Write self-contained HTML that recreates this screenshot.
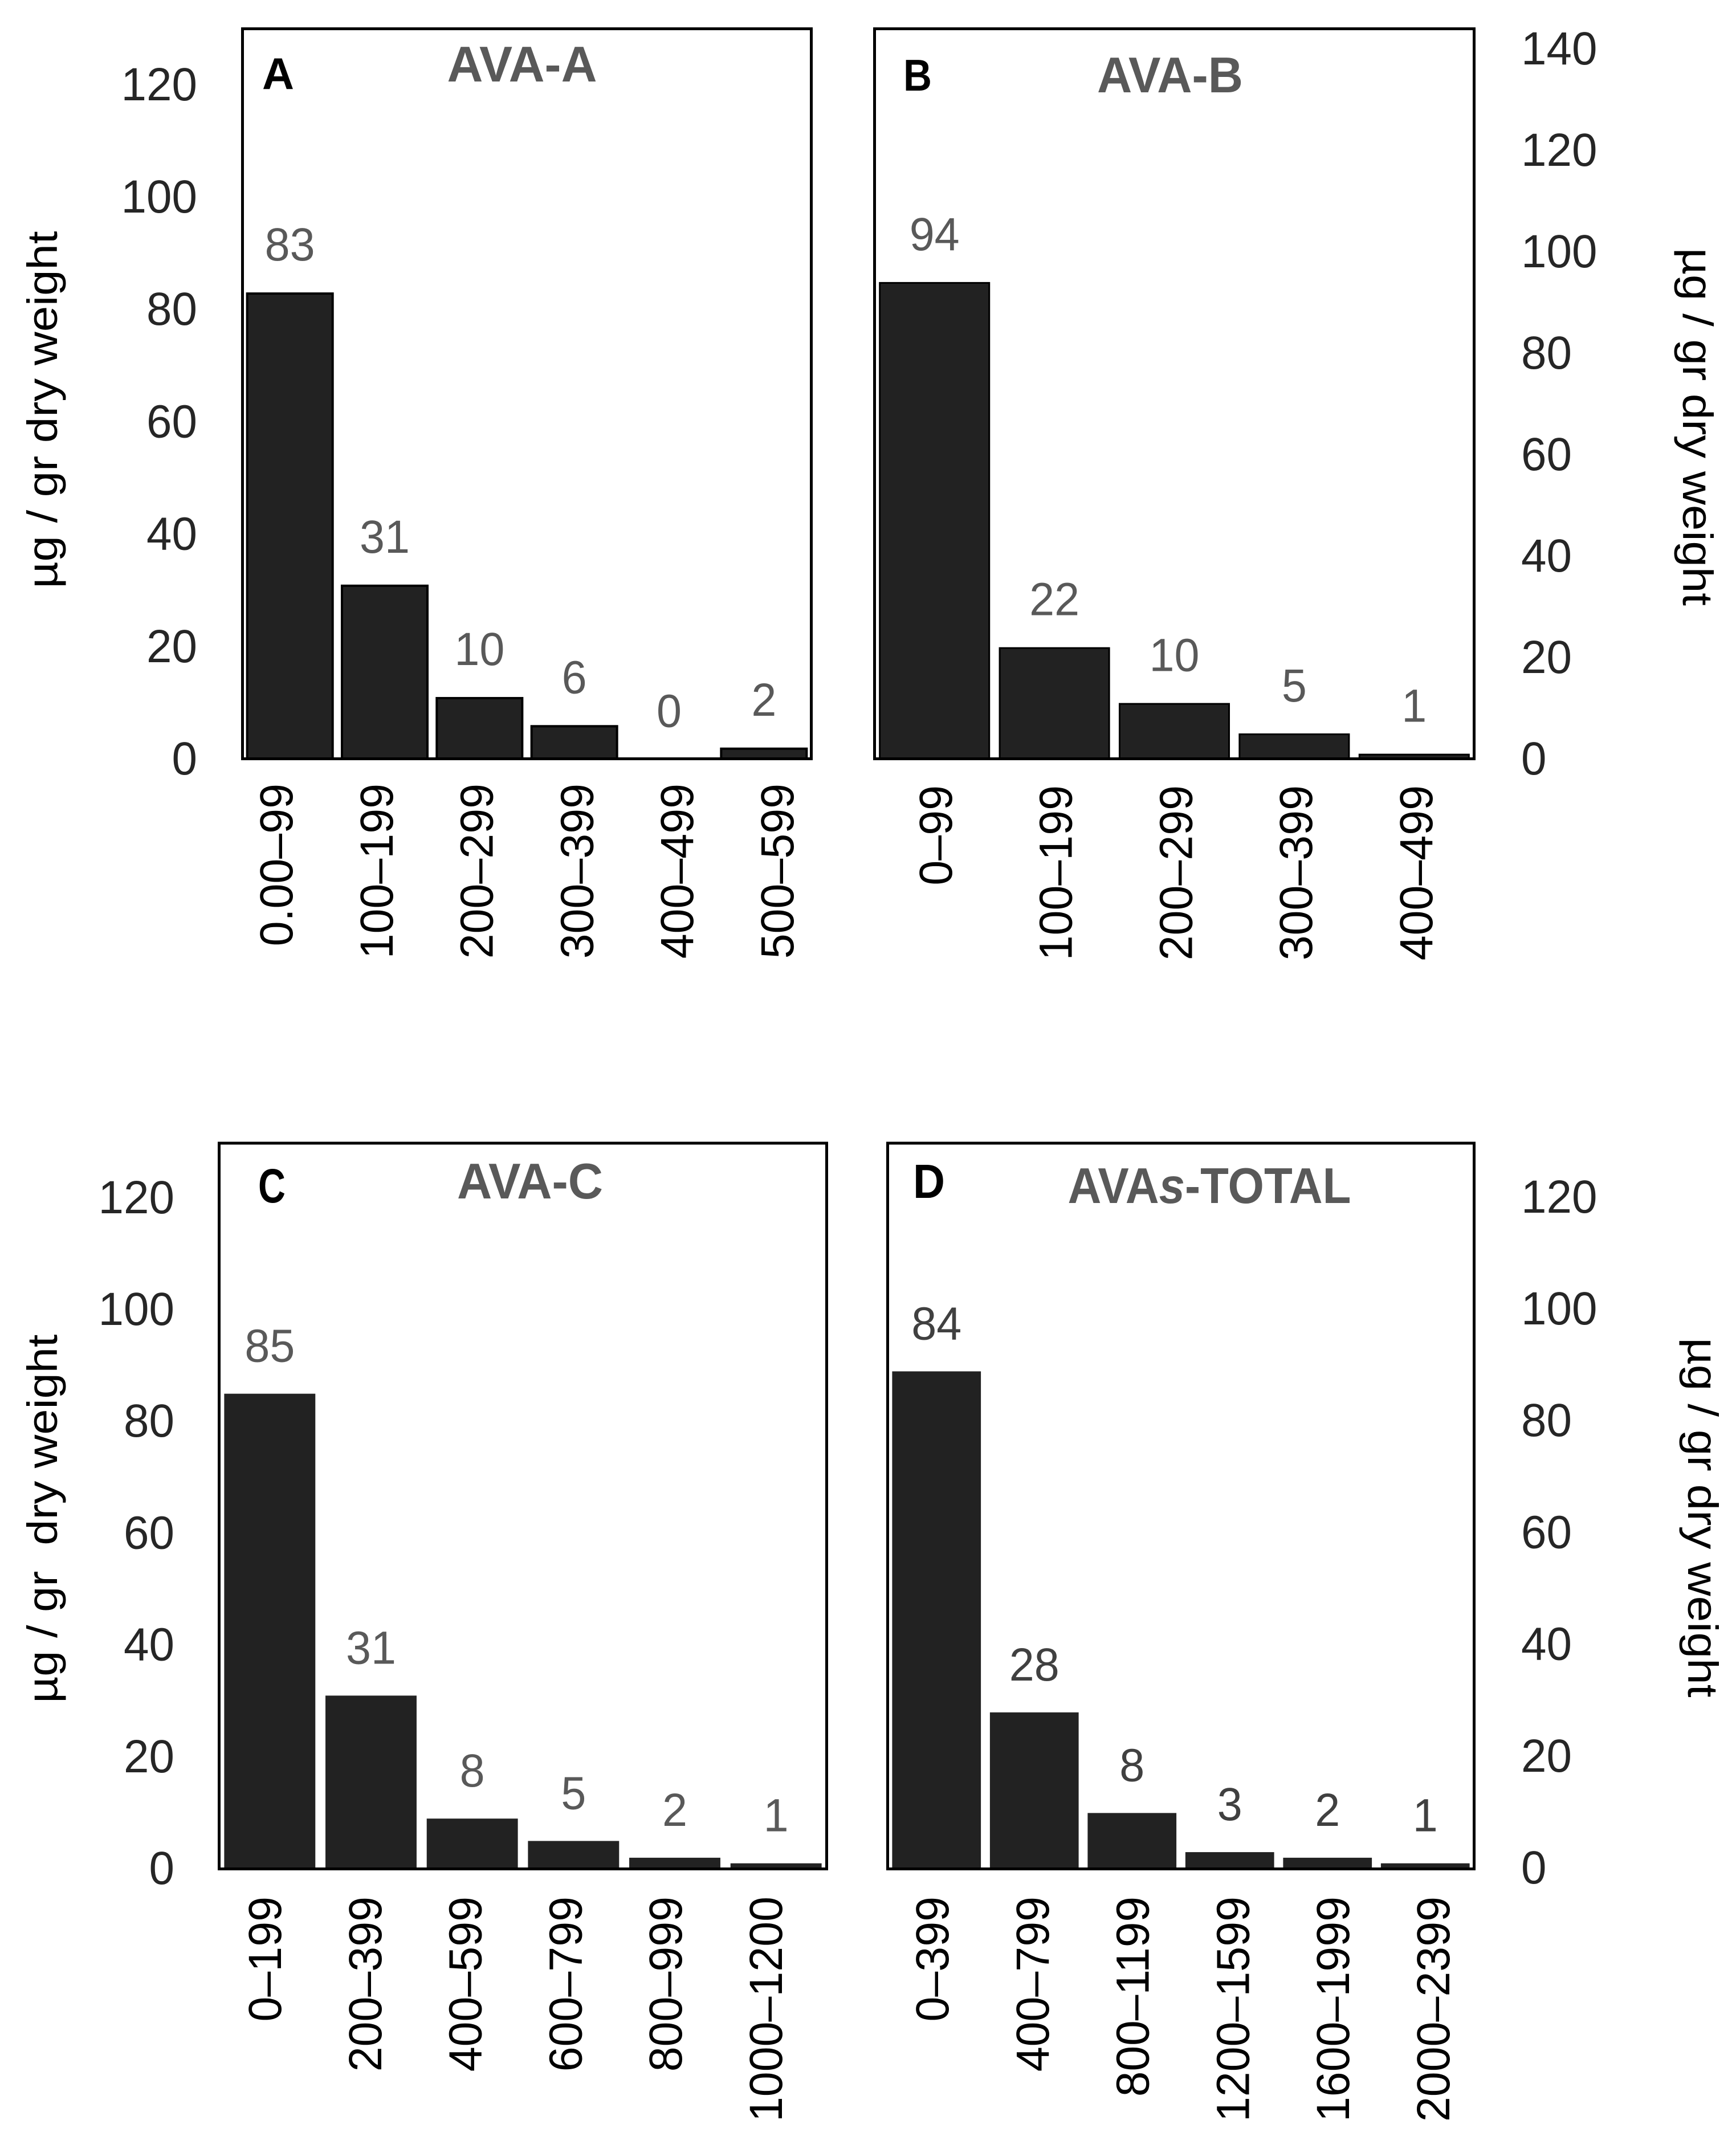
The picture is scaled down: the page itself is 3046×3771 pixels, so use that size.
<!DOCTYPE html>
<html lang="en">
<head>
<meta charset="utf-8">
<title>AVA concentration histograms</title>
<style>
html,body{margin:0;padding:0;background:#fff;width:3046px;height:3771px;overflow:hidden}
svg{display:block}
text{font-family:"Liberation Sans",sans-serif}
</style>
</head>
<body>
<svg id="chart" xmlns="http://www.w3.org/2000/svg" width="3046" height="3771" viewBox="0 0 3046 3771"></svg>
<script>
const ticksA = [0, 20, 40, 60, 80, 100, 120];
const ticksB = [0, 20, 40, 60, 80, 100, 120, 140];
const ticksC = [0, 20, 40, 60, 80, 100, 120];
const ticksD = [0, 20, 40, 60, 80, 100, 120];

const categoriesA = ['0.00–99', '100–199', '200–299', '300–399', '400–499', '500–599'];
const valuesA = [83, 31, 11, 6, 0, 2];
const printedA = ['83', '31', '10', '6', '0', '2'];

const categoriesB = ['0–99', '100–199', '200–299', '300–399', '400–499'];
const valuesB = [94, 22, 11, 5, 1];
const printedB = ['94', '22', '10', '5', '1'];

const categoriesC = ['0–199', '200–399', '400–599', '600–799', '800–999', '1000–1200'];
const valuesC = [85, 31, 9, 5, 2, 1];
const printedC = ['85', '31', '8', '5', '2', '1'];

const categoriesD = ['0–399', '400–799', '800–1199', '1200–1599', '1600–1999', '2000–2399'];
const valuesD = [89, 28, 10, 3, 2, 1];
const printedD = ['84', '28', '8', '3', '2', '1'];

const NS = 'http://www.w3.org/2000/svg';
const root = document.getElementById('chart');
const TICK_SIZE = 82, TICK_CAP = 29, CAT_SIZE = 82, CAT_CAP = 29;

function make(tag, parent, attrs, content) {
  const el = document.createElementNS(NS, tag);
  for (const k in attrs) el.setAttribute(k, attrs[k]);
  if (content !== undefined) el.textContent = content;
  parent.appendChild(el);
  return el;
}

function drawPanel(p, categories, values, printed, ticks) {
  const g = make('g', root, {});
  
  

  const band = (p.right - p.left) / categories.length;
  const xBar = i => p.left + band * i + band / 2;
  const yVal = v => p.base - v * p.unit;
  const yTick = v => p.tickBase - v * p.unit;
  const inset = p.barStroke / 2;

  values.forEach((v, i) => {
    const w = band * p.barRatio;
    const top = yVal(v);
    if (v > 0) {
      const bar = make('rect', g, {
        x: xBar(i) - w / 2 + inset,
        y: top + inset,
        width: w - p.barStroke,
        height: Math.max(p.base - top - inset, 0),
        fill: '#222222',
        stroke: p.barStroke ? '#000' : 'none',
        'stroke-width': p.barStroke
      });
      
      
    }
    const val = make('text', g, {
      x: xBar(i),
      y: top - 85 + TICK_CAP,
      'text-anchor': 'middle',
      'font-size': TICK_SIZE,
      textLength: printed[i].length * 44,
      lengthAdjust: 'spacingAndGlyphs',
      fill: p.valueColor
    }, printed[i]);
    
    

    const catX = p.catStart + p.catPitch * i;
    const cat = make('text', g, {
      transform: 'translate(' + (catX + CAT_CAP) + ' ' + p.catTop + ') rotate(-90)',
      'text-anchor': 'end',
      'font-size': CAT_SIZE,
      textLength: categories[i].replace('.', '').length * 43.9 + (categories[i].includes('.') ? 22 : 0),
      lengthAdjust: 'spacingAndGlyphs',
      fill: '#000'
    }, categories[i]);
    
    
  });

  ticks.forEach(t => {
    const s = String(t);
    const tick = make('text', g, {
      x: p.tickX,
      y: yTick(t) + TICK_CAP,
      'text-anchor': p.tickAnchor,
      'font-size': TICK_SIZE,
      textLength: s.length * 44.5,
      lengthAdjust: 'spacingAndGlyphs',
      fill: '#262626'
    }, s);
    
    
  });

  const frame = make('rect', g, {
    x: p.left, y: p.top, width: p.right - p.left, height: p.base - p.top,
    fill: 'none', stroke: '#000', 'stroke-width': 5
  });
  
  

  const title = make('text', g, {
    x: p.titleX, y: p.titleY + 31, 'text-anchor': 'middle',
    'font-size': 88, 'font-weight': 'bold', fill: '#595959',
    textLength: p.titleW, lengthAdjust: 'spacingAndGlyphs'
  });
  
  
  if (p.id === 'd') {
    title.appendChild(document.createTextNode('AVA'));
    make('tspan', title, {'font-style': 'italic'}, 's');
    title.appendChild(document.createTextNode('-TOTAL'));
  } else {
    title.textContent = p.title;
  }

  const letter = make('text', g, {
    x: p.letterX, y: p.letterY + 27, 'text-anchor': 'middle',
    'font-size': p.letterSize, 'font-weight': 'bold', fill: '#000',
    textLength: p.letterW, lengthAdjust: 'spacingAndGlyphs'
  }, p.letter);
  
  

  const yTitle = make('text', g, {
    transform: 'translate(' + p.axisX + ' ' + p.axisY + ') rotate(' + p.axisRot + ')',
    'text-anchor': 'middle', 'font-size': 74, fill: '#000',
    textLength: p.axisW, lengthAdjust: 'spacingAndGlyphs',
    'xml:space': 'preserve'
  }, p.axisText);
  yTitle.setAttribute('style', 'white-space:pre');
  
  
}

drawPanel({
  id: 'a', title: 'AVA-A', letter: 'A',
  left: 425.5, right: 1423.5, top: 50.5, base: 1331.5, tickBase: 1330, unit: 9.86,
  barRatio: 0.926, barStroke: 4, valueColor: '#595959',
  tickX: 346, tickAnchor: 'end',
  catStart: 484, catPitch: 175.8, catTop: 1375,
  titleX: 916, titleY: 112, titleW: 263,
  letterX: 488, letterY: 129, letterSize: 78, letterW: 56,
  axisX: 100, axisY: 719, axisRot: -90, axisW: 627, axisText: 'µg / gr dry weight'
}, categoriesA, valuesA, printedA, ticksA);

drawPanel({
  id: 'b', title: 'AVA-B', letter: 'B',
  left: 1534.5, right: 2586.5, top: 50.5, base: 1331.5, tickBase: 1330, unit: 8.9,
  barRatio: 0.927, barStroke: 3, valueColor: '#595959',
  tickX: 2669, tickAnchor: 'start',
  catStart: 1641, catPitch: 210.7, catTop: 1378,
  titleX: 2053, titleY: 131, titleW: 256,
  letterX: 1610, letterY: 132, letterSize: 78, letterW: 50,
  axisX: 2953, axisY: 749, axisRot: 90, axisW: 628, axisText: 'µg / gr dry weight'
}, categoriesB, valuesB, printedB, ticksB);

drawPanel({
  id: 'c', title: 'AVA-C', letter: 'C',
  left: 384.5, right: 1450.5, top: 2006, base: 3279.5, tickBase: 3277, unit: 9.81,
  barRatio: 0.9, barStroke: 0, valueColor: '#595959',
  tickX: 306, tickAnchor: 'end',
  catStart: 464, catPitch: 175.8, catTop: 3328,
  titleX: 930, titleY: 2072, titleW: 256,
  letterX: 477, letterY: 2083, letterSize: 84, letterW: 48,
  axisX: 100, axisY: 2665, axisRot: -90, axisW: 647, axisText: 'µg / gr  dry weight'
}, categoriesC, valuesC, printedC, ticksC);

drawPanel({
  id: 'd', title: 'AVAs-TOTAL', letter: 'D',
  left: 1557.5, right: 2586.5, top: 2006, base: 3279.5, tickBase: 3276, unit: 9.81,
  barRatio: 0.908, barStroke: 0, valueColor: '#404040',
  tickX: 2669, tickAnchor: 'start',
  catStart: 1635, catPitch: 175.8, catTop: 3328,
  titleX: 2122, titleY: 2080, titleW: 497,
  letterX: 1630, letterY: 2075, letterSize: 84, letterW: 56,
  axisX: 2962, axisY: 2663, axisRot: 90, axisW: 631, axisText: 'µg / gr dry weight'
}, categoriesD, valuesD, printedD, ticksD);
</script>
</body>
</html>
